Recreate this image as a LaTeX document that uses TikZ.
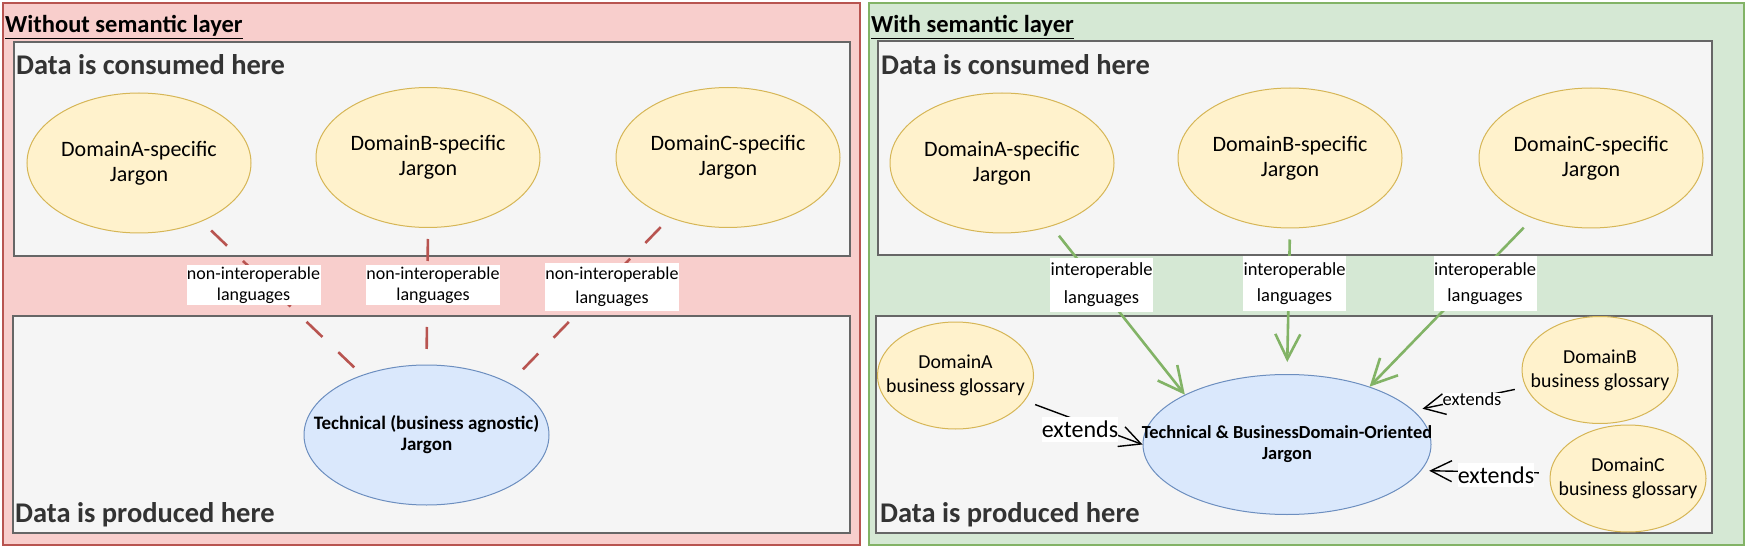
\documentclass[tikz,border=0pt]{standalone}
\usepackage{fontspec}
\setmainfont{Carlito}
\usetikzlibrary{shapes.geometric,arrows.meta}
\definecolor{redfill}{HTML}{F8CECC}
\definecolor{redline}{HTML}{B85450}
\definecolor{greenfill}{HTML}{D5E8D4}
\definecolor{greenline}{HTML}{82B366}
\definecolor{bluefill}{HTML}{DAE8FC}
\definecolor{blueline}{HTML}{6C8EBF}
\definecolor{yellowfill}{HTML}{FFF2CC}
\definecolor{yellowline}{HTML}{D6B656}
\definecolor{greyfill}{HTML}{F5F5F5}
\definecolor{greyline}{HTML}{666666}
\begin{document}
\begin{tikzpicture}[x=1pt,y=-1pt]

    \tikzset{
      panel/.style={
        draw,
        line width=1.2pt,
        inner sep=0pt,
      },
      zone/.style={
        draw=greyline,
        fill=greyfill,
        line width=1.2pt,
        inner sep=0pt,
      },
      jargon/.style={
        ellipse,
        draw=yellowline,
        fill=yellowfill,
        line width=1pt,
        inner xsep=-40pt,
        inner ysep=0pt,
        minimum width=224pt,
        minimum height=140pt,
        align=center,
        font=\fontsize{22}{25}\selectfont,
      },
      glossary/.style={
        ellipse,
        draw=yellowline,
        fill=yellowfill,
        line width=1pt,
        inner xsep=-40pt,
        inner ysep=0pt,
        minimum width=156pt,
        minimum height=107pt,
        align=center,
        font=\fontsize{19.8}{24}\selectfont,
      },
      technical/.style={
        ellipse,
        draw=blueline,
        fill=bluefill,
        line width=1pt,
        inner xsep=-60pt,
        inner ysep=0pt,
        minimum height=140pt,
        align=center,
        font=\fontsize{19}{21}\selectfont\bfseries,
      },
      heading/.style={
        anchor=west,
        inner sep=0pt,
        text=black!80,
        font=\fontsize{28.5}{32}\selectfont\bfseries,
      },
      paneltitle/.style={
        anchor=west,
        inner sep=0pt,
        font=\fontsize{24.5}{28}\selectfont\bfseries,
      },
      lang/.style={
        fill=white,
        inner sep=0pt,
        minimum width=134pt,
        align=center,
        font=\fontsize{18}{21}\selectfont,
      },
      extends/.style={
        fill=white,
        inner xsep=0pt,
        inner ysep=4pt,
      },
      nonlink/.style={
        draw=redline,
        line width=2.6pt,
        dash pattern=on 22pt off 22pt,
      },
      link/.style={
        draw=greenline,
        line width=2.6pt,
        -{Straight Barb[length=25pt,width=25pt]},
      },
      extlink/.style={
        draw=black,
        line width=1.4pt,
        -{Straight Barb[length=21pt,width=21pt]},
      },
    }
    \clip (0,0) rectangle (1746,548);

	\node[panel,draw=redline,fill=redfill,minimum width=857pt,minimum height=542pt] (without) at (431.5,274) {};
	\node[panel,draw=greenline,fill=greenfill,minimum width=875pt,minimum height=542pt] (with) at (1306.5,274) {};

	\node[paneltitle] (withoutTitle) at (5,27) {\underline{Without semantic layer}};
	\node[paneltitle] (withTitle) at (871,27) {\underline{With semantic layer}};

	\node[zone,minimum width=836pt,minimum height=214pt] (consumedL) at (432,149) {};
	\node[zone,minimum width=837pt,minimum height=217pt] (producedL) at (431.5,424.5) {};
	\node[zone,minimum width=834pt,minimum height=214pt] (consumedR) at (1295,148) {};
	\node[zone,minimum width=836pt,minimum height=217pt] (producedR) at (1294,424.5) {};

	\node[heading] (consumedTextL) at (16,65) {Data is consumed here};
	\node[heading] (producedTextL) at (15,515) {Data is produced here};
	\node[heading] (consumedTextR) at (881,65) {Data is consumed here};
	\node[heading] (producedTextR) at (880,515) {Data is produced here};

	\node[jargon] (domainAL) at (139,163) {DomainA-specific\\Jargon};
	\node[jargon] (domainBL) at (428,157.5) {DomainB-specific\\Jargon};
	\node[jargon] (domainCL) at (728,157.5) {DomainC-specific\\Jargon};
	\node[technical,minimum width=245pt] (techL) at (426.5,435) {Technical (business agnostic)\\Jargon};

	\node[jargon] (domainAR) at (1002,163) {DomainA-specific\\Jargon};
	\node[jargon] (domainBR) at (1290,158) {DomainB-specific\\Jargon};
	\node[jargon] (domainCR) at (1591,158) {DomainC-specific\\Jargon};
	\node[technical,minimum width=288pt,font=\fontsize{18.4}{21}\selectfont\bfseries] (techR) at (1287,444.5) {Technical \& BusinessDomain-Oriented\\Jargon};

	\node[glossary] (glossaryA) at (955.5,375.5) {DomainA\\business glossary};
	\node[glossary] (glossaryB) at (1600,370) {DomainB\\business glossary};
	\node[glossary] (glossaryC) at (1628,478.5) {DomainC\\business glossary};

	\draw[nonlink,shorten <=13pt] (domainAL.-43) -- (techL.137);
	\draw[nonlink,shorten <=11pt] (domainBL.south) -- (techL.north);
	\draw[nonlink,shorten <=13pt] (domainCL.226) -- (techL.32);

	\draw[link,shorten <=12pt] (domainAR.-52) -- (techR.154);
	\draw[link,shorten <=11pt,shorten >=12pt] (domainBR.south) -- (techR.north);
	\draw[link,shorten <=13pt] (domainCR.226) -- (techR.35);

	\draw[extlink,shorten <=11pt] (glossaryA.-20) -- (techR.west);
	\draw[extlink,shorten <=11pt,shorten >=9pt] (glossaryB.193) -- (techR.15);
	\draw[extlink,shorten <=11pt,shorten >=8pt] (glossaryC.176) -- (techR.-11);

	\node[lang,minimum height=40pt] (langAL) at (253.5,285) {non-interoperable\\languages};
	\node[lang,minimum height=40pt] (langBL) at (433,285) {non-interoperable\\languages};
	\node[lang,minimum height=48pt,font=\fontsize{18}{24}\selectfont] (langCL) at (612,287) {non-interoperable\\languages};

	\node[lang,minimum width=103pt,minimum height=54pt,font=\fontsize{18.5}{28}\selectfont] (langAR) at (1101.5,285) {interoperable\\languages};
	\node[lang,minimum width=103pt,minimum height=55pt,font=\fontsize{18.5}{26}\selectfont] (langBR) at (1294.5,283.5) {interoperable\\languages};
	\node[lang,minimum width=103pt,minimum height=55pt,font=\fontsize{18.5}{26}\selectfont] (langCR) at (1485,283.5) {interoperable\\languages};

	\node[extends,font=\fontsize{24}{28}\selectfont] (extendsA) at (1080,429.5) {extends};
	\node[extends,inner ysep=0pt,font=\fontsize{18.5}{21}\selectfont] (extendsB) at (1472,399) {extends};
	\node[extends,font=\fontsize{24}{28}\selectfont] (extendsC) at (1496,475) {extends};

\end{tikzpicture}
\end{document}
